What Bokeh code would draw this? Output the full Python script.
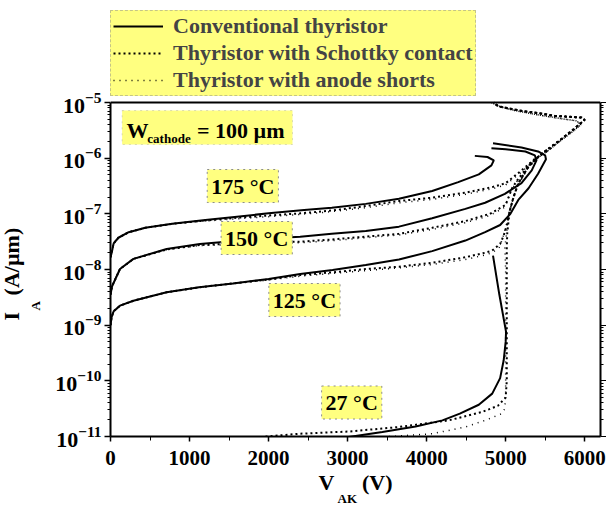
from bokeh.plotting import figure
from bokeh.models import (LogAxis, FixedTicker, Legend, LegendItem, Span,
                          Label, BoxAnnotation, Range1d, Title)
from bokeh.embed import file_html
from bokeh.resources import INLINE

# ---------------- data (V_AK in V, I_A in A/um) ----------------
x_ticks = [0, 1000, 2000, 3000, 4000, 5000, 6000]
x_minor = [500, 1500, 2500, 3500, 4500, 5500]
y_ticks = [1e-11, 1e-10, 1e-9, 1e-8, 1e-7, 1e-6, 1e-5]

# Conventional thyristor (solid)
v_conv_175 = [0, 15, 40, 100, 230, 440, 780, 1200, 1600, 2000, 2450, 2800, 3230, 3650, 4070, 4400, 4660, 4820, 4850, 4770, 4610]
i_conv_175 = [1.66e-8, 2.0e-8, 2.95e-8, 3.72e-8, 4.68e-8, 5.62e-8, 6.61e-8, 7.76e-8, 8.91e-8, 1.02e-7, 1.17e-7, 1.29e-7, 1.51e-7, 1.86e-7, 2.57e-7, 3.72e-7, 5.13e-7, 7.41e-7, 9.12e-7, 1.05e-6, 1.10e-6]

v_conv_150 = [0, 20, 120, 290, 710, 1130, 1800, 2400, 2800, 3230, 3650, 4070, 4490, 4740, 4990, 5200, 5330, 5390, 5370, 5250, 5000, 4820]
i_conv_150 = [3.55e-9, 5.01e-9, 1.02e-8, 1.55e-8, 2.34e-8, 2.88e-8, 3.47e-8, 3.89e-8, 4.37e-8, 4.90e-8, 5.89e-8, 8.32e-8, 1.23e-7, 1.58e-7, 2.29e-7, 3.55e-7, 6.03e-7, 9.12e-7, 1.12e-6, 1.32e-6, 1.45e-6, 1.51e-6]

v_conv_125 = [0, 15, 40, 120, 290, 710, 1120, 1550, 2000, 2400, 2810, 3230, 3650, 4070, 4490, 4740, 4930, 5060, 5160, 5290, 5410, 5510, 5500, 5410, 5200, 4840]
i_conv_125 = [1.0e-9, 1.41e-9, 1.78e-9, 2.24e-9, 2.75e-9, 3.89e-9, 4.79e-9, 5.62e-9, 6.76e-9, 8.32e-9, 9.77e-9, 1.20e-8, 1.51e-8, 2.14e-8, 3.31e-8, 4.68e-8, 6.31e-8, 1.0e-7, 1.78e-7, 2.88e-7, 5.25e-7, 9.55e-7, 1.12e-6, 1.32e-6, 1.55e-6, 1.86e-6]

v_conv_27 = [2950, 3440, 3860, 4200, 4420, 4660, 4830, 4930, 4975, 5000, 5005, 4920, 4840]
i_conv_27 = [9.5e-12, 1.20e-11, 1.51e-11, 1.95e-11, 2.57e-11, 3.72e-11, 5.89e-11, 1.12e-10, 2.34e-10, 5.01e-10, 7.59e-10, 3.55e-9, 1.78e-8]

# Thyristor with Schottky contact (dense dots)
v_sch_175 = [0, 15, 40, 100, 230, 440, 780, 1200, 1600, 2000, 2400, 2810, 3230, 3650, 4070, 4490, 4830, 5000, 5200, 5370, 5540, 5710, 5870, 6000, 5960, 5620, 5410, 5200, 4910, 4846]
i_sch_175 = [1.66e-8, 2.0e-8, 2.95e-8, 3.72e-8, 4.68e-8, 5.62e-8, 6.61e-8, 7.59e-8, 8.51e-8, 9.33e-8, 1.02e-7, 1.15e-7, 1.38e-7, 1.70e-7, 1.95e-7, 2.40e-7, 3.02e-7, 3.55e-7, 6.03e-7, 9.77e-7, 1.38e-6, 2.24e-6, 3.39e-6, 4.90e-6, 5.37e-6, 5.75e-6, 6.46e-6, 7.08e-6, 8.51e-6, 1.0e-5]

v_sch_150 = [0, 20, 120, 290, 710, 1130, 1800, 2400, 2810, 3230, 3650, 4070, 4490, 4800, 5000, 5080, 5160, 5290, 5410, 5540, 5710, 5870, 6000, 5960, 5620, 5410, 5200, 4910, 4846]
i_sch_150 = [3.55e-9, 5.01e-9, 1.02e-8, 1.55e-8, 2.29e-8, 2.75e-8, 3.02e-8, 3.16e-8, 3.47e-8, 3.89e-8, 4.37e-8, 5.62e-8, 7.41e-8, 1.0e-7, 1.45e-7, 2.88e-7, 4.27e-7, 7.41e-7, 1.05e-6, 1.48e-6, 2.24e-6, 3.39e-6, 4.90e-6, 5.37e-6, 5.75e-6, 6.46e-6, 7.08e-6, 8.51e-6, 1.0e-5]

v_sch_125 = [0, 15, 40, 120, 290, 710, 1120, 1550, 2000, 2400, 2810, 3230, 3650, 4070, 4490, 4740, 4830, 4930, 4975, 5015, 5050, 5100, 5160, 5290, 5410, 5540, 5710, 5870, 6000, 5960, 5620, 5410, 5200, 4910, 4846]
i_sch_125 = [1.0e-9, 1.41e-9, 1.78e-9, 2.24e-9, 2.75e-9, 3.89e-9, 4.79e-9, 5.62e-9, 6.61e-9, 7.94e-9, 8.91e-9, 1.02e-8, 1.12e-8, 1.32e-8, 1.66e-8, 2.0e-8, 2.19e-8, 2.88e-8, 4.07e-8, 6.31e-8, 1.12e-7, 2.0e-7, 3.55e-7, 7.08e-7, 1.05e-6, 1.48e-6, 2.24e-6, 3.39e-6, 4.90e-6, 5.37e-6, 5.75e-6, 6.46e-6, 7.08e-6, 8.51e-6, 1.0e-5]

v_sch_27 = [1900, 1970, 2390, 3020, 3650, 4280, 4700, 4900, 5000, 5014, 5014, 5014, 5014, 5020, 5050, 5100, 5160, 5290, 5410, 5540]
i_sch_27 = [9.55e-12, 1.0e-11, 1.12e-11, 1.23e-11, 1.48e-11, 1.95e-11, 2.75e-11, 3.55e-11, 5.01e-11, 1.0e-10, 1.0e-9, 1.0e-8, 2.51e-8, 4.47e-8, 1.12e-7, 2.0e-7, 3.55e-7, 7.08e-7, 1.05e-6, 1.48e-6]

# Thyristor with anode shorts (sparse dots)
v_ash_175 = [0, 15, 40, 100, 230, 440, 780, 1200, 1600, 2000, 2400, 2810, 3230, 3650, 4070, 4490, 4830, 5000, 5200, 5370, 5540, 5700, 5850, 5950, 5900, 5700, 5400, 5100, 4900, 4820]
i_ash_175 = [1.66e-8, 2.0e-8, 2.95e-8, 3.72e-8, 4.68e-8, 5.62e-8, 6.61e-8, 7.41e-8, 8.13e-8, 8.91e-8, 9.77e-8, 1.10e-7, 1.29e-7, 1.58e-7, 1.82e-7, 2.24e-7, 2.82e-7, 3.31e-7, 5.62e-7, 9.33e-7, 1.38e-6, 2.09e-6, 3.02e-6, 3.98e-6, 4.68e-6, 5.13e-6, 6.03e-6, 7.24e-6, 8.71e-6, 1.0e-5]

v_ash_150 = [0, 20, 120, 290, 710, 1130, 1800, 2400, 2810, 3230, 3650, 4070, 4490, 4800, 4990, 5070, 5150, 5280, 5400, 5540, 5700, 5850, 5950, 5900, 5700, 5400, 5100, 4900, 4820]
i_ash_150 = [3.55e-9, 5.01e-9, 1.02e-8, 1.55e-8, 2.29e-8, 2.69e-8, 2.88e-8, 3.02e-8, 3.31e-8, 3.72e-8, 4.17e-8, 5.25e-8, 6.92e-8, 9.33e-8, 1.32e-7, 2.63e-7, 3.98e-7, 6.92e-7, 1.0e-6, 1.38e-6, 2.09e-6, 3.02e-6, 3.98e-6, 4.68e-6, 5.13e-6, 6.03e-6, 7.24e-6, 8.71e-6, 1.0e-5]

v_ash_125 = [0, 15, 40, 120, 290, 710, 1120, 1550, 2000, 2400, 2810, 3230, 3650, 4070, 4490, 4740, 4830, 4920, 4960, 5000, 5040, 5090, 5150, 5280, 5400, 5540, 5700, 5850, 5950, 5900, 5700, 5400, 5100, 4900, 4820]
i_ash_125 = [1.0e-9, 1.41e-9, 1.78e-9, 2.24e-9, 2.75e-9, 3.89e-9, 4.79e-9, 5.62e-9, 6.46e-9, 7.59e-9, 8.51e-9, 9.55e-9, 1.07e-8, 1.23e-8, 1.51e-8, 1.82e-8, 2.0e-8, 2.51e-8, 3.55e-8, 5.62e-8, 1.0e-7, 1.78e-7, 3.16e-7, 6.61e-7, 1.0e-6, 1.38e-6, 2.09e-6, 3.02e-6, 3.98e-6, 4.68e-6, 5.13e-6, 6.03e-6, 7.24e-6, 8.71e-6, 1.0e-5]

v_ash_27 = [3300, 3440, 4070, 4490, 4740, 4950, 4990, 5000, 5000, 5000, 5000, 4990, 5040, 5090, 5150, 5280, 5400]
i_ash_27 = [8.91e-12, 9.77e-12, 1.12e-11, 1.48e-11, 1.95e-11, 2.57e-11, 3.16e-11, 6.31e-11, 3.16e-10, 3.16e-9, 1.0e-8, 2.51e-8, 1.0e-7, 1.78e-7, 3.16e-7, 6.61e-7, 1.0e-6]

legend_labels = ["Conventional thyristor", "Thyristor with Schottky contact", "Thyristor with anode shorts"]
temp_labels = ["175 °C", "150 °C", "125 °C", "27 °C"]
temp_label_v = [1674, 1850, 2454, 3052]
temp_label_i = [3.16e-7, 3.68e-8, 2.83e-9, 4.08e-11]

# ---------------- styling ----------------
FONT = "Liberation Serif"
YELLOW = "#FFFF80"
BORDER = "#8c8c8c"
NB = "\u00a0"
txt = dict(text_font=FONT, text_font_style="bold", text_color="black")

# frame reaches up to the legend area; the drawn box/axes stop at 1e-5
Y_TOP = 4.886e-4

p = figure(width=606, height=506, x_range=Range1d(0, 6200), y_range=Range1d(1e-11, Y_TOP),
           y_axis_type="log", output_backend="svg", toolbar_location=None,
           min_border_left=110, min_border_right=6, min_border_top=8, min_border_bottom=70)
p.grid.visible = False
p.outline_line_color = None

xt = FixedTicker(ticks=x_ticks, minor_ticks=x_minor)
y_minor = [m * t for t in y_ticks[:-1] for m in range(2, 10)]
yt = FixedTicker(ticks=y_ticks, minor_ticks=y_minor)

xa = p.xaxis[0]
xa.ticker = xt
ya = p.yaxis[0]
ya.ticker = yt
ya.bounds = (1e-11, 1e-5)

for ax in (xa, ya):
    ax.axis_line_width = 2
    ax.major_tick_line_width = 1.5
    ax.minor_tick_line_width = 1
    ax.major_tick_in = 0
    ax.minor_tick_in = 0
    ax.major_label_text_font = FONT
    ax.major_label_text_font_style = "bold"
    ax.major_label_text_color = "black"
xa.major_label_text_font_size = "21px"
ya.major_label_text_font_size = "22px"
xa.major_tick_out = 5
xa.minor_tick_out = 4
xa.major_label_standoff = 9
ya.major_tick_out = 6
ya.minor_tick_out = 3
ya.major_label_standoff = 3

right = LogAxis(ticker=yt, bounds=(1e-11, 1e-5), major_tick_in=0, major_tick_out=6, minor_tick_in=0,
                minor_tick_out=3, major_label_overrides={t: "" for t in y_ticks},
                major_label_standoff=0, major_label_text_font_size="1px", axis_line_width=2)
p.add_layout(right, "right")
p.add_layout(Span(location=1e-5, dimension="width", line_color="black", line_width=2))

solid = dict(line_color="black", line_width=2)
dense = dict(line_color="black", line_width=2, line_dash="2 3")
sparse = dict(line_color="black", line_width=1.5, line_dash="1 5")

r_ash = [p.line(v, i, **sparse) for v, i in [(v_ash_175, i_ash_175), (v_ash_150, i_ash_150),
                                             (v_ash_125, i_ash_125), (v_ash_27, i_ash_27)]]
r_sch = [p.line(v, i, **dense) for v, i in [(v_sch_175, i_sch_175), (v_sch_150, i_sch_150),
                                            (v_sch_125, i_sch_125), (v_sch_27, i_sch_27)]]
r_conv = [p.line(v, i, **solid) for v, i in [(v_conv_175, i_conv_175), (v_conv_150, i_conv_150),
                                             (v_conv_125, i_conv_125), (v_conv_27, i_conv_27)]]

legend = Legend(items=[LegendItem(label=legend_labels[0], renderers=[r_conv[0]]),
                       LegendItem(label=legend_labels[1], renderers=[r_sch[0]]),
                       LegendItem(label=legend_labels[2], renderers=[r_ash[0]])],
                location=(0, 340), orientation="vertical",
                label_text_font=FONT, label_text_font_style="bold", label_text_font_size="22px",
                glyph_width=50, glyph_height=20, label_height=20, spacing=1, padding=2, margin=0,
                label_standoff=10, background_fill_color=YELLOW, background_fill_alpha=1,
                border_line_color=BORDER, border_line_dash="dotted", border_line_width=1)
p.add_layout(legend)

box_style = dict(background_fill_color=YELLOW, background_fill_alpha=1, border_line_color=BORDER,
                 border_line_dash="dotted", border_line_width=1, padding=4)

for t, xv, yv in zip(temp_labels, temp_label_v, temp_label_i):
    p.add_layout(Label(x=xv, y=yv, text=t, text_align="center", text_baseline="middle",
                       text_font_size="22px", **txt, **box_style))

p.add_layout(BoxAnnotation(left=147, right=2303, bottom=1.76e-6, top=7.18e-6, fill_color=YELLOW,
                           fill_alpha=1, line_color=BORDER, line_dash="dotted", line_width=1))
p.add_layout(Label(x=201, y=3.14e-6, text="W", text_baseline="alphabetic", text_font_size="22px", **txt))
p.add_layout(Label(x=466, y=2.23e-6, text="cathode", text_baseline="alphabetic", text_font_size="13px", **txt))
p.add_layout(Label(x=1095, y=3.14e-6, text="= 100 µm", text_baseline="alphabetic", text_font_size="22px", **txt))

# axis titles with subscripts, as titles in the side panels
p.add_layout(Title(text="V" + NB * 5 + "(V)", align="center", vertical_align="bottom",
                   text_font_size="22px", standoff=0, **txt), "below")
p.add_layout(Title(text="AK", align="left", offset=227, vertical_align="bottom",
                   text_font_size="13px", standoff=-11, **txt), "below")

p.add_layout(Title(text="A", align="left", offset=126, vertical_align="top",
                   text_font_size="13px", standoff=16, **txt), "left")
p.add_layout(Title(text="I" + NB * 3 + "(A/µm)", align="left", offset=116, vertical_align="top",
                   text_font_size="22px", standoff=-13, **txt), "left")

open("out.html", "w").write(file_html(p, INLINE))
